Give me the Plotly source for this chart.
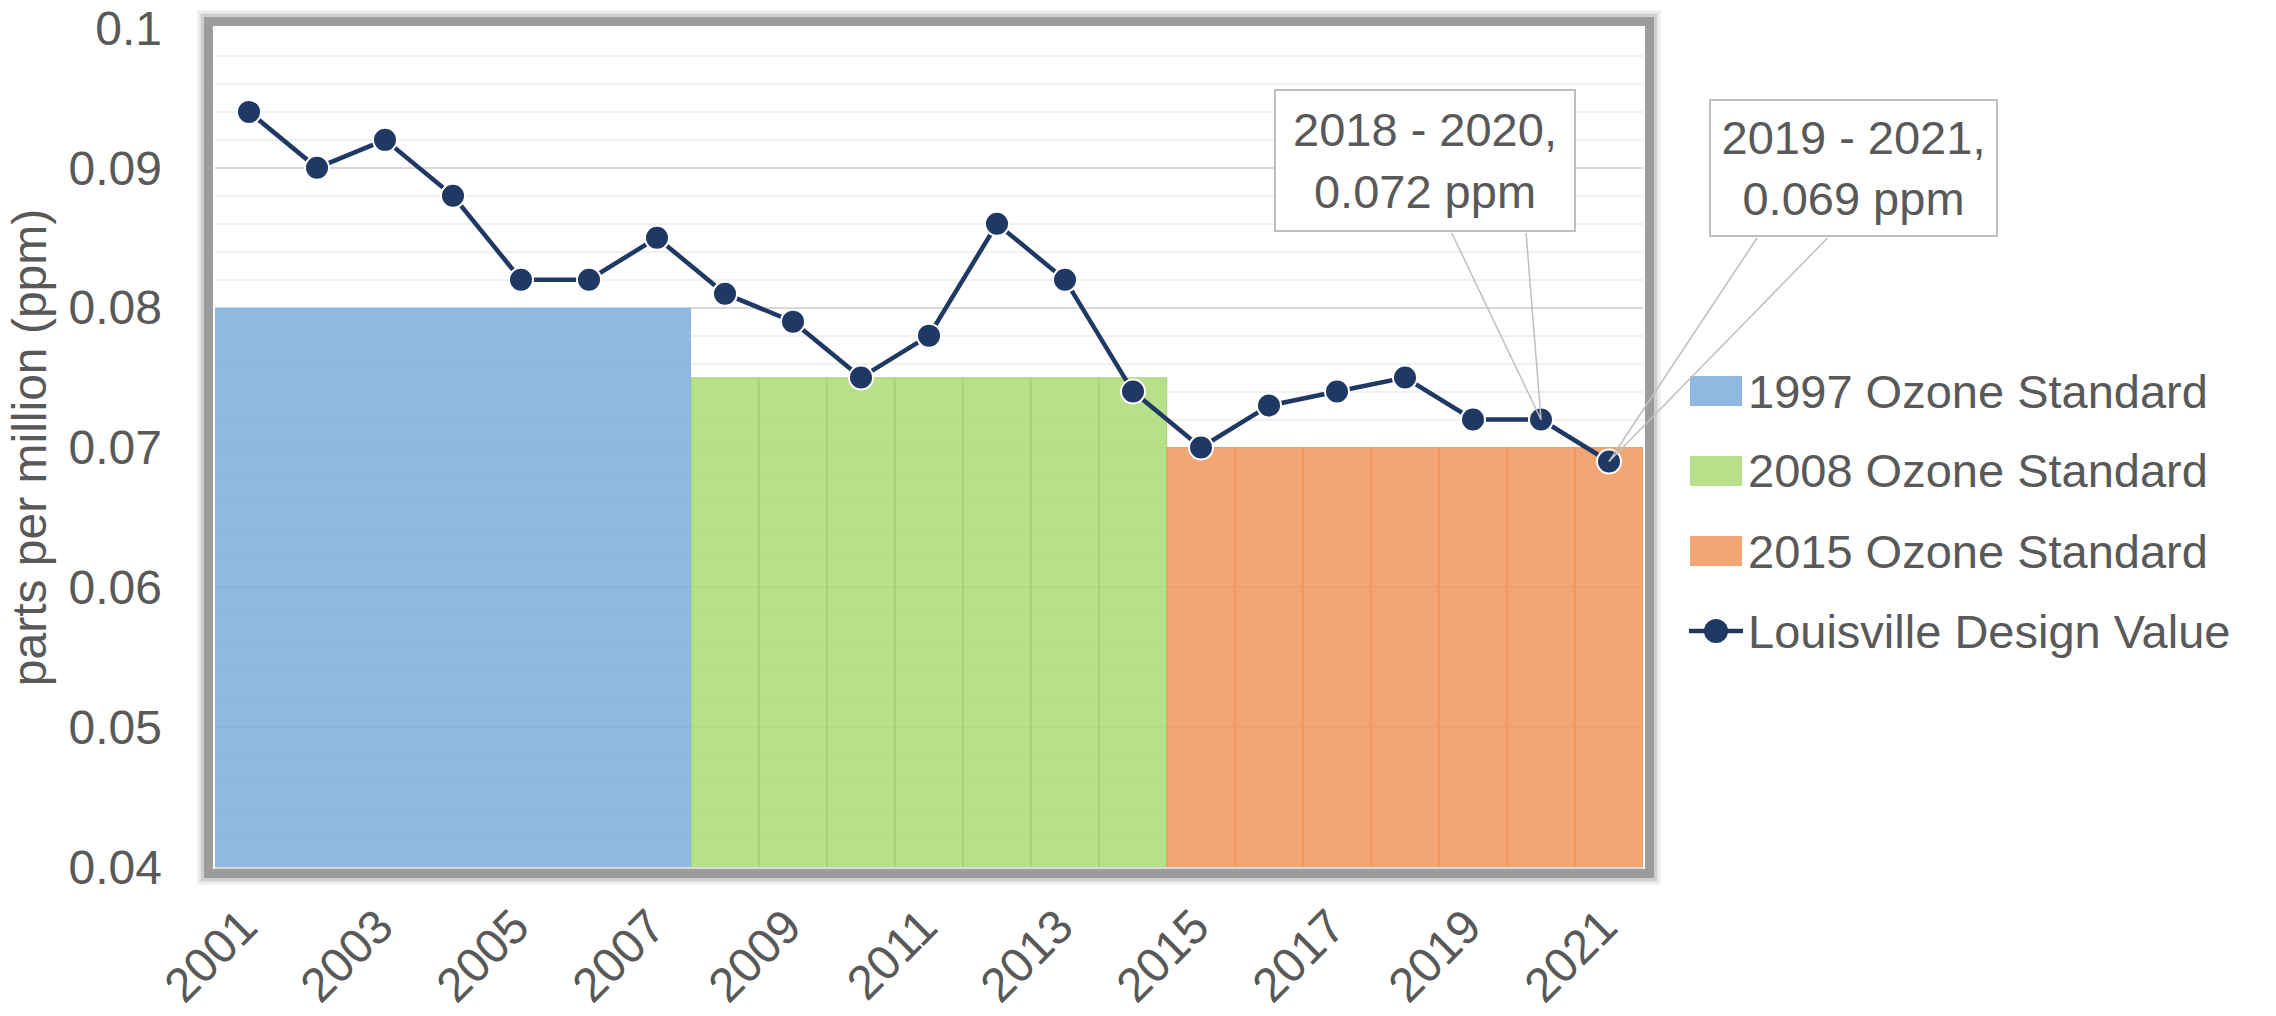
import plotly.graph_objects as go

# ---------------- data ----------------
YEARS = ["2001", "2002", "2003", "2004", "2005", "2006", "2007",
         "2008", "2009", "2010", "2011", "2012", "2013", "2014",
         "2015", "2016", "2017", "2018", "2019", "2020", "2021"]

DESIGN_VALUE = [0.094, 0.090, 0.092, 0.088, 0.082, 0.082, 0.085,
                0.081, 0.079, 0.075, 0.078, 0.086, 0.082, 0.074,
                0.070, 0.073, 0.074, 0.075, 0.072, 0.072, 0.069]

STD_1997 = [0.08, 0.08, 0.08, 0.08, 0.08, 0.08, 0.08,
            None, None, None, None, None, None, None,
            None, None, None, None, None, None, None]
STD_2008 = [None, None, None, None, None, None, None,
            0.075, 0.075, 0.075, 0.075, 0.075, 0.075, 0.075,
            None, None, None, None, None, None, None]
STD_2015 = [None, None, None, None, None, None, None,
            None, None, None, None, None, None, None,
            0.07, 0.07, 0.07, 0.07, 0.07, 0.07, 0.07]

X_TICKS = ["2001", "2003", "2005", "2007", "2009", "2011",
           "2013", "2015", "2017", "2019", "2021"]
Y_TICKS = [0.04, 0.05, 0.06, 0.07, 0.08, 0.09, 0.1]
Y_TICK_TEXT = ["0.04", "0.05", "0.06", "0.07", "0.08", "0.09", "0.1"]

CALLOUT_YEARS = ["2020", "2021"]
CALLOUT_VALUES = [0.072, 0.069]
CALLOUT_TEXT = ["2018 - 2020,<br>0.072 ppm", "2019 - 2021,<br>0.069 ppm"]

SERIES_NAMES = ["1997 Ozone Standard", "2008 Ozone Standard",
                "2015 Ozone Standard", "Louisville Design Value"]

# ---------------- style ----------------
W, H = 2276, 1016
L, R, T, B = 215, 633, 28, 149
PW, PH = W - L - R, H - T - B
FONT = "Liberation Sans, Arial, sans-serif"
TXT = "#595959"
FS = 48
FS_CALL = 47
FS_LEG = 47
NAVY = "#1F3864"
BAR_FILL = ["rgba(124,173,221,0.85)", "rgba(171,217,116,0.85)", "rgba(240,150,90,0.85)"]
BAR_EDGE = ["rgba(124,173,221,0.0)", "rgba(112,173,71,0.30)", "rgba(237,125,49,0.40)"]
BAR_EDGE_W = [0, 1, 1]
SWATCH = ["#90B9E2", "#B8DF89", "#F2A673"]


def px_x(px):
    return (px - L) / PW


def px_y(py):
    return (H - B - py) / PH


fig = go.Figure()
for i, vals in enumerate([STD_1997, STD_2008, STD_2015]):
    fig.add_trace(go.Bar(
        x=YEARS, y=vals, name=SERIES_NAMES[i], showlegend=False,
        marker=dict(color=BAR_FILL[i], line=dict(color=BAR_EDGE[i], width=BAR_EDGE_W[i])),
        hoverinfo="skip",
    ))

fig.add_trace(go.Scatter(
    x=YEARS, y=DESIGN_VALUE, name=SERIES_NAMES[3], mode="lines+markers",
    line=dict(color=NAVY, width=4.5), showlegend=False,
    marker=dict(color=NAVY, size=24, line=dict(color="white", width=2)),
))

# callout wedges (two thin lines from the box to the point) and boxes
wedges = [[(-90, -188), (-15, -188)], [(149, -225), (220, -225)]]
boxes = [dict(xs=-116, ys=259.5, w=298, h=139), dict(xs=244.5, ys=293, w=285, h=134)]
annotations = []
for k in range(2):
    xi = YEARS.index(CALLOUT_YEARS[k])
    for ax, ay in wedges[k]:
        annotations.append(dict(
            x=xi, y=CALLOUT_VALUES[k], xref="x", yref="y",
            text="", showarrow=True, arrowhead=0, arrowwidth=1.5,
            arrowcolor="#bfbfbf", ax=ax, ay=ay, standoff=0, startstandoff=0,
        ))
for k in range(2):
    xi = YEARS.index(CALLOUT_YEARS[k])
    b = boxes[k]
    annotations.append(dict(
        x=xi, y=CALLOUT_VALUES[k], xref="x", yref="y",
        text=CALLOUT_TEXT[k], showarrow=False,
        xshift=b["xs"], yshift=b["ys"], width=b["w"], height=b["h"],
        align="center", valign="middle",
        bgcolor="white", bordercolor="#bfbfbf", borderwidth=2, borderpad=0,
        font=dict(family=FONT, size=FS_CALL, color=TXT),
    ))

# legend text (drawn manually to match the large swatches)
LEG_X_TEXT = 1746
LEG_YC = [391, 471, 551, 631]
for i in range(4):
    annotations.append(dict(
        x=px_x(LEG_X_TEXT), y=px_y(LEG_YC[i]), xref="paper", yref="paper",
        xanchor="left", yanchor="middle", text=SERIES_NAMES[i], showarrow=False,
        font=dict(family=FONT, size=FS_LEG, color=TXT),
    ))

# shadow frame around plot area
shapes = []
for off, lw, col in [(16, 3, "#ececec"), (12.5, 4, "#cfcfcf"), (6.5, 9, "#9c9c9c")]:
    shapes.append(dict(
        type="rect", xref="paper", yref="paper",
        x0=-off / PW, x1=1 + off / PW, y0=-off / PH, y1=1 + off / PH,
        line=dict(color=col, width=lw), fillcolor="rgba(0,0,0,0)", layer="below",
    ))

# legend swatches
SW_X0, SW_X1 = 1690, 1742
for i in range(3):
    shapes.append(dict(
        type="rect", xref="paper", yref="paper",
        x0=px_x(SW_X0), x1=px_x(SW_X1), y0=px_y(LEG_YC[i] + 15), y1=px_y(LEG_YC[i] - 15),
        line=dict(width=0), fillcolor=SWATCH[i], layer="above",
    ))
shapes.append(dict(
    type="line", xref="paper", yref="paper",
    x0=px_x(1689), x1=px_x(1743), y0=px_y(LEG_YC[3]), y1=px_y(LEG_YC[3]),
    line=dict(color=NAVY, width=4.5), layer="above",
))
shapes.append(dict(
    type="circle", xref="paper", yref="paper",
    x0=px_x(1716 - 12), x1=px_x(1716 + 12), y0=px_y(LEG_YC[3] + 12), y1=px_y(LEG_YC[3] - 12),
    line=dict(width=0), fillcolor=NAVY, layer="above",
))

fig.update_layout(
    width=W, height=H, autosize=False,
    margin=dict(l=L, r=R, t=T, b=B, pad=0, autoexpand=False),
    paper_bgcolor="white", plot_bgcolor="white",
    font=dict(family=FONT, size=FS, color=TXT),
    barmode="overlay", bargap=0,
    showlegend=False,
    hovermode=False,
    xaxis=dict(
        type="category", categoryorder="array", categoryarray=YEARS,
        range=[-0.5, len(YEARS) - 0.5], automargin=False,
        tickmode="array", tickvals=X_TICKS, ticktext=X_TICKS,
        tickangle=-45, showgrid=False, zeroline=False,
        showline=True, linecolor="#d9d9d9", linewidth=2,
        ticks="", ticklabelstandoff=10, ticklabelshift=-6,
        tickfont=dict(family=FONT, size=FS, color=TXT),
    ),
    yaxis=dict(
        range=[0.04, 0.1], tickmode="array", tickvals=Y_TICKS, ticktext=Y_TICK_TEXT,
        automargin=False,
        showgrid=True, gridcolor="#d9d9d9", gridwidth=2,
        minor=dict(dtick=0.002, showgrid=True, gridcolor="#f0f0f0", gridwidth=2, ticks=""),
        zeroline=False, showline=False, ticks="", ticklabelstandoff=52,
        tickfont=dict(family=FONT, size=FS, color=TXT),
        title=dict(text="parts per million (ppm)", standoff=6,
                   font=dict(family=FONT, size=FS, color=TXT)),
    ),
    annotations=annotations,
    shapes=shapes,
)

fig.write_html(
    "out.html",
    config={"displayModeBar": False, "staticPlot": True},
    post_script="document.body.style.margin='0px';document.body.style.overflow='hidden';",
)
